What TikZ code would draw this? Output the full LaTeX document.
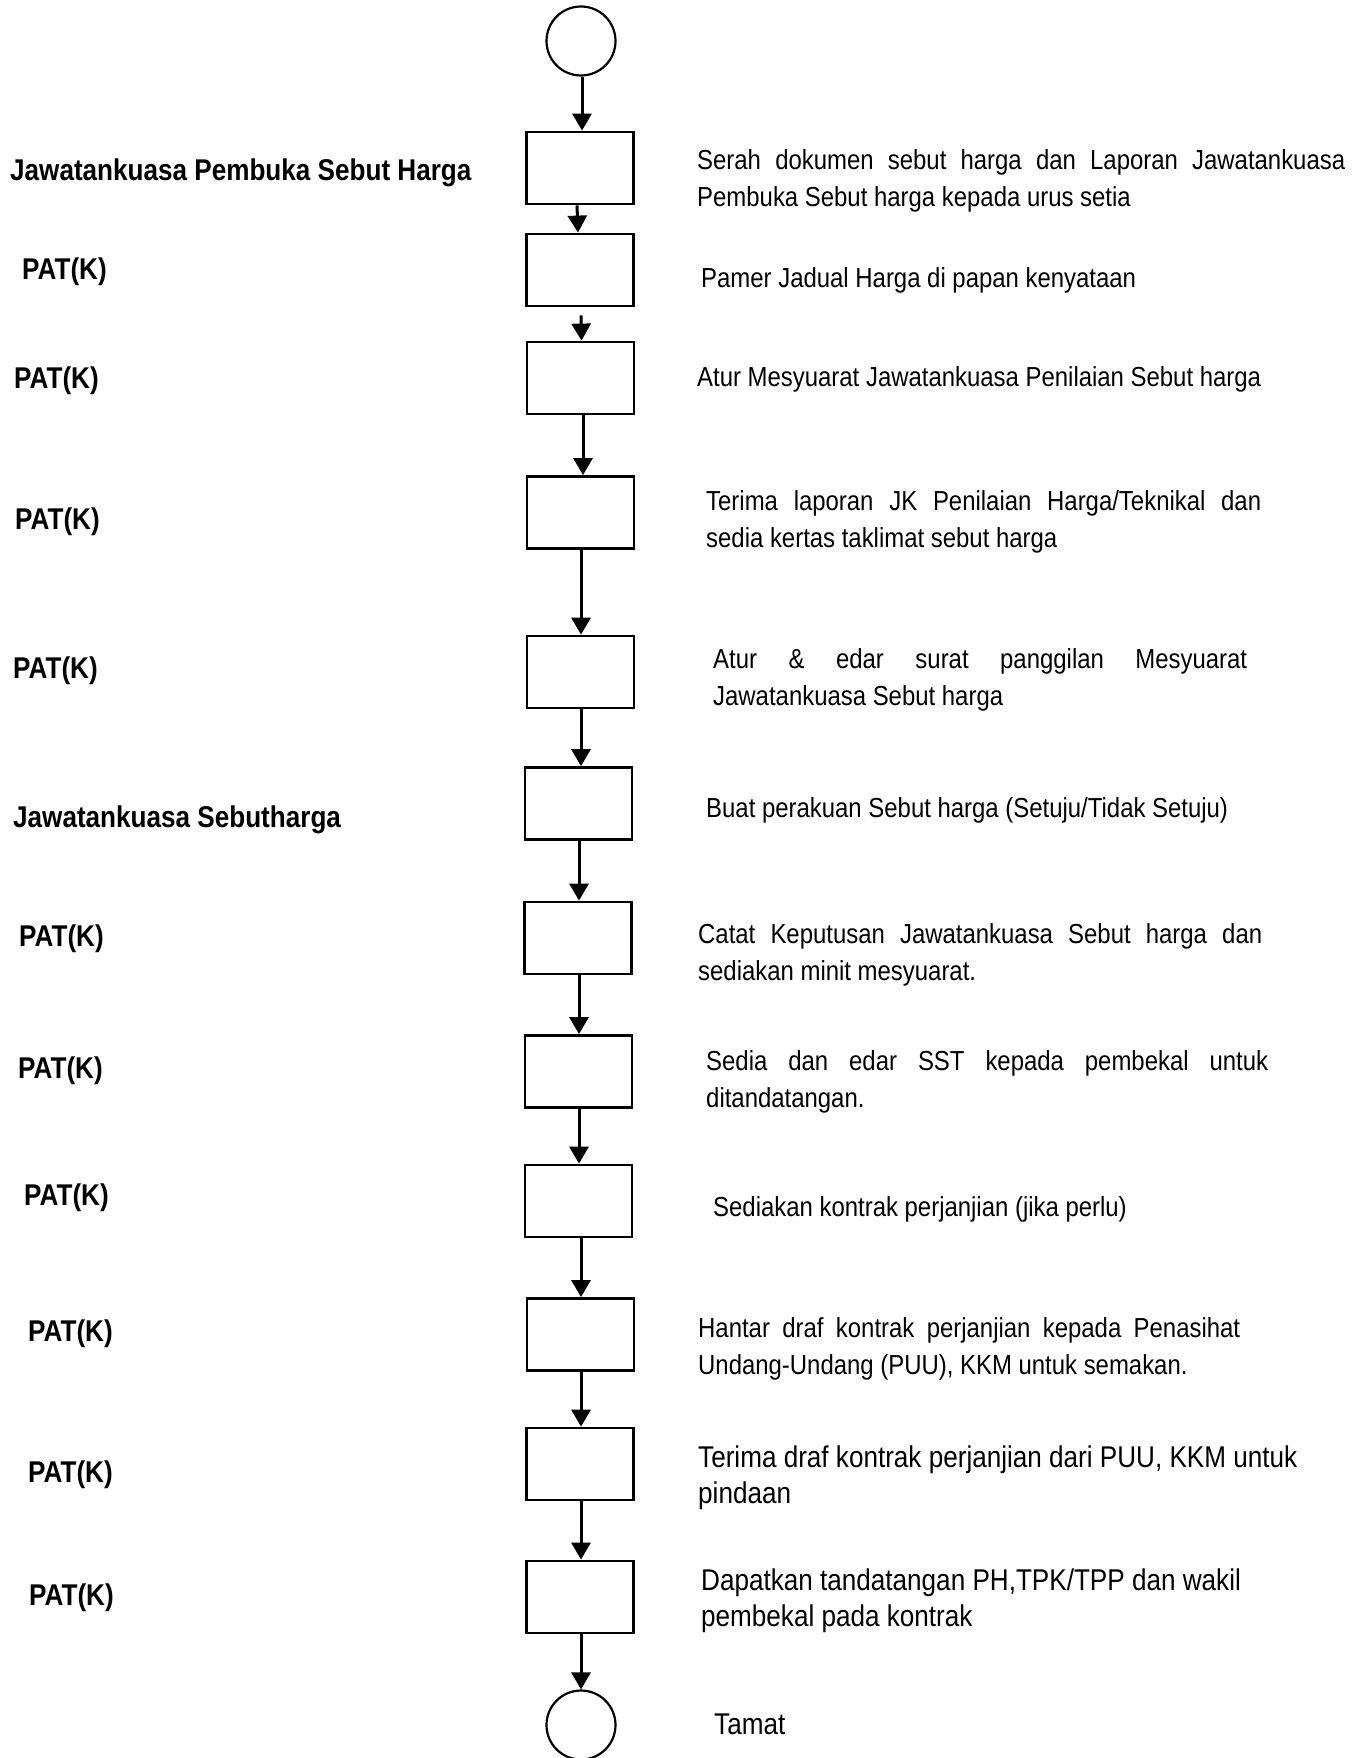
\documentclass[tikz,border=0pt]{standalone}
\usepackage{fontspec}
\newfontfamily\bodyfont[FakeStretch=0.87]{Liberation Sans}
\usetikzlibrary{arrows.meta}
\tikzset{
  stepbox/.style={draw, line width=2.8pt, minimum width=107pt, minimum height=72pt, inner sep=0pt},
  endpoint/.style={draw, circle, line width=2.2pt, minimum size=69pt, inner sep=0pt},
  flow/.style={line width=3pt, -{Triangle[width=19pt,length=17pt]}},
  role/.style={anchor=base west, inner sep=0pt, font=\bodyfont\bfseries\fontsize{30}{36}\selectfont},
  task/.style={anchor=base west, inner sep=0pt, font=\bodyfont\fontsize{27.5}{37}\selectfont},
  tasklg/.style={anchor=base west, inner sep=0pt, font=\bodyfont\fontsize{30}{36}\selectfont},
}
% first line of a two-line description, spread to the full width
\newcommand{\spreadline}[2]{\makebox[#1][s]{#2}}
\begin{document}
\begin{tikzpicture}[x=1pt, y=-1pt]
  \fill[white] (0,0) rectangle (1362,1758);
  \useasboundingbox (0,0) rectangle (1362,1758);

  % flow column
  \node[endpoint] (c0) at (581,41) {};
  \node[stepbox] (b1)  at (580,168) {};
  \node[stepbox] (b2)  at (580,270) {};
  \node[stepbox] (b3)  at (580.5,378) {};
  \node[stepbox] (b4)  at (580.5,512.5) {};
  \node[stepbox] (b5)  at (580.5,672) {};
  \node[stepbox] (b6)  at (578.5,803.5) {};
  \node[stepbox] (b7)  at (578,938) {};
  \node[stepbox] (b8)  at (578.5,1071.5) {};
  \node[stepbox] (b9)  at (578.5,1201) {};
  \node[stepbox] (b10) at (580.5,1334.5) {};
  \node[stepbox] (b11) at (580,1464) {};
  \node[stepbox] (b12) at (580,1597) {};
  \node[endpoint] (c1) at (581,1725) {};

  % connectors
  \draw[flow] ([xshift=1pt]c0.south) -- ([xshift=2pt]b1.north);
  \draw[flow] ([xshift=-3pt]b1.south) -- ([xshift=-2pt]b2.north);
  \draw[flow] ([xshift=1pt,yshift=-8pt]b2.south) -- ([xshift=1pt]b3.north);
  \draw[flow] ([xshift=2.5pt]b3.south) -- ([xshift=2.5pt]b4.north);
  \draw[flow] ([xshift=0.5pt]b4.south) -- ([xshift=0.5pt]b5.north);
  \draw[flow] ([xshift=0.5pt]b5.south) -- ([xshift=2.5pt]b6.north);
  \draw[flow] ([xshift=0.5pt]b6.south) -- ([xshift=1pt]b7.north);
  \draw[flow] ([xshift=1pt]b7.south) -- ([xshift=0.5pt]b8.north);
  \draw[flow] ([xshift=0.5pt]b8.south) -- ([xshift=0.5pt]b9.north);
  \draw[flow] ([xshift=2.5pt]b9.south) -- ([xshift=0.5pt]b10.north);
  \draw[flow] ([xshift=0.5pt]b10.south) -- ([xshift=1pt]b11.north);
  \draw[flow] ([xshift=1pt]b11.south) -- ([xshift=1pt]b12.north);
  \draw[flow] ([xshift=1pt]b12.south) -- (c1.north);

  % responsible parties
  \node[role] (r1)  at (10,180)  {Jawatankuasa Pembuka Sebut Harga};
  \node[role] (r2)  at (22,279)  {PAT(K)};
  \node[role] (r3)  at (14,388)  {PAT(K)};
  \node[role] (r4)  at (15,529)  {PAT(K)};
  \node[role] (r5)  at (13,678)  {PAT(K)};
  \node[role] (r6)  at (13,827)  {Jawatankuasa Sebutharga};
  \node[role] (r7)  at (19,946)  {PAT(K)};
  \node[role] (r8)  at (18,1078) {PAT(K)};
  \node[role] (r9)  at (24,1205) {PAT(K)};
  \node[role] (r10) at (28,1341) {PAT(K)};
  \node[role] (r11) at (28,1482) {PAT(K)};
  \node[role] (r12) at (29,1605) {PAT(K)};

  % step descriptions
  \node[task] (t1) at (697,169) {\parbox[t]{648pt}{\spreadline{648pt}{Serah dokumen sebut harga dan Laporan Jawatankuasa}\\Pembuka Sebut harga kepada urus setia}};
  \node[task] (t2) at (701,287) {Pamer Jadual Harga di papan kenyataan};
  \node[task] (t3) at (697,386) {Atur Mesyuarat Jawatankuasa Penilaian Sebut harga};
  \node[task] (t4) at (706,510) {\parbox[t]{555pt}{\spreadline{555pt}{Terima laporan JK Penilaian Harga/Teknikal dan}\\sedia kertas taklimat sebut harga}};
  \node[task] (t5) at (713,668) {\parbox[t]{534pt}{\spreadline{534pt}{Atur \& edar surat panggilan Mesyuarat}\\Jawatankuasa Sebut harga}};
  \node[task] (t6) at (706,817) {Buat perakuan Sebut harga (Setuju/Tidak Setuju)};
  \node[task] (t7) at (698,943) {\parbox[t]{564pt}{\spreadline{564pt}{Catat Keputusan Jawatankuasa Sebut harga dan}\\sediakan minit mesyuarat.}};
  \node[task] (t8) at (706,1070) {\parbox[t]{562pt}{\spreadline{562pt}{Sedia dan edar SST kepada pembekal untuk}\\ditandatangan.}};
  \node[task] (t9) at (713,1216) {Sediakan kontrak perjanjian (jika perlu)};
  \node[task] (t10) at (698,1337) {\parbox[t]{542pt}{\spreadline{542pt}{Hantar draf kontrak perjanjian kepada Penasihat}\\Undang-Undang (PUU), KKM untuk semakan.}};
  \node[tasklg] (t11) at (698,1467) {\parbox[t]{640pt}{Terima draf kontrak perjanjian dari PUU, KKM untuk\\pindaan}};
  \node[tasklg] (t12) at (701,1590) {\parbox[t]{640pt}{Dapatkan tandatangan PH,TPK/TPP dan wakil\\pembekal pada kontrak}};
  \node[tasklg] (t13) at (714,1734) {Tamat};
\end{tikzpicture}
\end{document}
